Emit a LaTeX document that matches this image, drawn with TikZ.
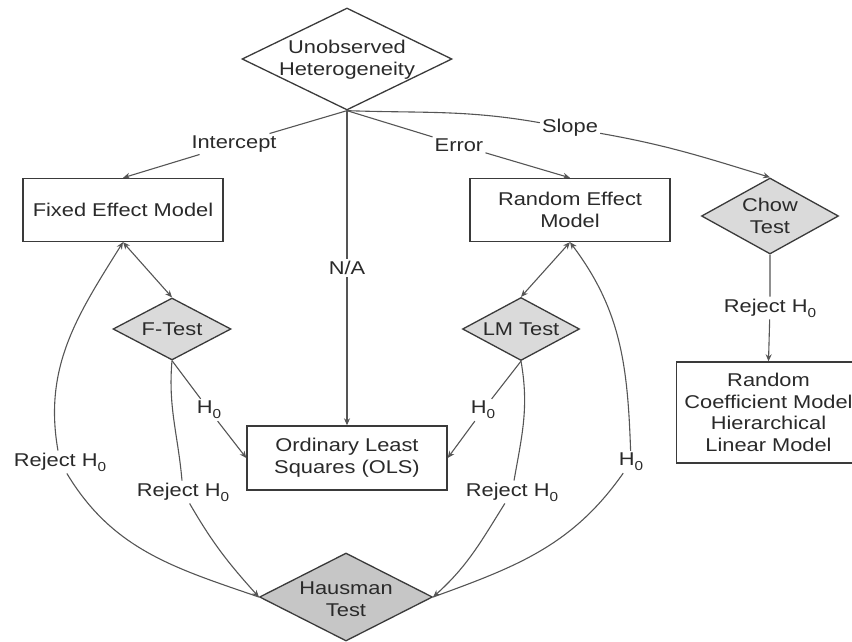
\documentclass[tikz,border=0pt]{standalone}
\usepackage{fontspec}
\setmainfont{Liberation Sans}[FakeStretch=1.18]
\usetikzlibrary{shapes.geometric,arrows.meta}
\definecolor{txt}{HTML}{2A2A2A}
\definecolor{ln}{HTML}{555555}
\definecolor{bx}{HTML}{3A3A3A}
\definecolor{dfill}{HTML}{DADADA}
\definecolor{hfill}{HTML}{C6C6C6}
\newcommand\Hzero{H\raisebox{-5pt}{\fontsize{13}{13}\selectfont 0}}
\begin{document}
\begin{tikzpicture}[x=1pt,y=-1pt,
  every node/.style={font=\fontsize{18.5}{22}\selectfont, text=txt},
  box/.style={draw=bx, line width=1.4pt, fill=white, align=center, inner sep=0pt},
  dia/.style={diamond, draw=bx, line width=1.3pt, inner sep=0pt},
  txtnode/.style={align=center, inner sep=0pt},
  lab/.style={fill=white, inner sep=2pt},
  conn/.style={draw=ln, line width=1.1pt, -{Stealth[length=7pt,width=6pt]}},
  both/.style={draw=ln, line width=1.1pt, {Stealth[length=7pt,width=6pt]}-{Stealth[length=7pt,width=6pt]}}
]
\useasboundingbox (0,0) rectangle (852,641);

% main nodes
\node[dia, minimum width=210, minimum height=102] (top) at (347,59) {};
\node[txtnode] (topT) at (347,60) {Unobserved\\Heterogeneity};

\node[box, minimum width=200, minimum height=63] (fe) at (123,210) {Fixed Effect Model};
\node[box, minimum width=200, minimum height=63] (rem) at (570,210) {Random Effect\\Model};

\node[dia, fill=dfill, minimum width=137, minimum height=76] (chow) at (770,216) {};
\node[txtnode] (chowT) at (770,216) {Chow\\Test};

\node[dia, fill=dfill, minimum width=118, minimum height=62] (ft) at (172,329) {};
\node[txtnode] (ftT) at (172,329) {F-Test};

\node[dia, fill=dfill, minimum width=117, minimum height=63] (lm) at (521,329) {};
\node[txtnode] (lmT) at (521,329) {LM Test};

\node[box, minimum width=200, minimum height=64] (ols) at (347,458) {Ordinary Least\\Squares (OLS)};

\node[box, minimum width=184, minimum height=101, font=\fontsize{18.5}{21.7}\selectfont] (rc) at (768.5,412.5) {Random\\Coefficient Model\\Hierarchical\\Linear Model};

\node[dia, fill=hfill, minimum width=173, minimum height=88] (haus) at (346,597) {};
\node[txtnode] (hausT) at (346,599) {Hausman\\Test};

% labels
\node[lab] (Lint) at (234,144) {Intercept};
\node[lab] (Lerr) at (459,145) {Error};
\node[lab] (Lslope) at (570,128) {Slope};
\node[lab] (Lna) at (347,268) {N/A};
\node[lab] (H1) at (209,410) {\Hzero};
\node[lab] (H2) at (483,410) {\Hzero};
\node[lab] (L1) at (60,462) {Reject \Hzero};
\node[lab] (L2) at (183,492) {Reject \Hzero};
\node[lab] (L3) at (512,492) {Reject \Hzero};
\node[lab] (L4) at (631,462) {\Hzero};
\node[lab] (Lchow) at (770,308) {Reject \Hzero};

% connectors
\draw[conn] (top.south) -- (Lint) -- (fe.north);
\draw[conn] (top.south) -- (Lna) -- (ols.north);
\draw[conn] (top.south) -- (Lerr) -- (rem.north);
\draw[conn] (top.south) to[out=-2,in=170] (Lslope) to[out=-10,in=163] (chow.north);

\draw[both] (fe.south) -- (ft.north);
\draw[both] (rem.south) -- (lm.north);

\draw[conn] (ft.south) -- (H1) -- (ols.west);
\draw[conn] (lm.south) -- (H2) -- (ols.east);
\draw[conn] (chow.south) -- (Lchow) -- (rc.north);

\draw[conn] (ft.south) to[out=-95,in=95] (L2) to[out=-60,in=132] (haus.west);
\draw[conn] (haus.west) to[out=161,in=-59] (L1) to[out=100,in=238] (fe.south);
\draw[conn] (lm.south) to[out=-80,in=80] (L3) to[out=238,in=42] (haus.east);
\draw[conn] (haus.east) to[out=20,in=235] (L4) to[out=92,in=-53] (rem.south);
\end{tikzpicture}
\end{document}
